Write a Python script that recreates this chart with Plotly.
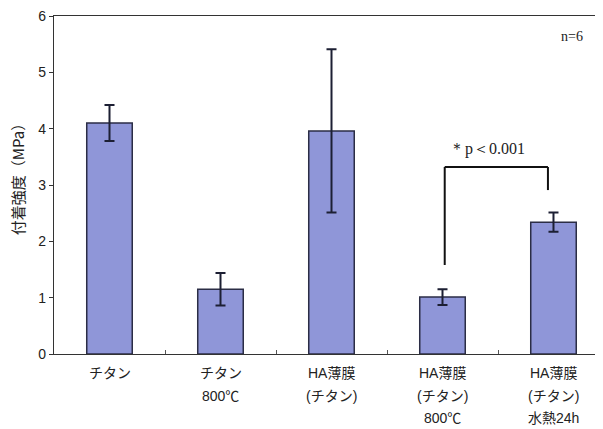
import plotly.graph_objects as go

categories = [["チタン"], ["チタン", "800℃"], ["HA薄膜", "(チタン)"],
              ["HA薄膜", "(チタン)", "800℃"], ["HA薄膜", "(チタン)", "水熱24h"]]
means = [4.10, 1.15, 3.96, 1.01, 2.34]
errors = [0.32, 0.29, 1.45, 0.14, 0.17]
y_ticks = [0, 1, 2, 3, 4, 5, 6]

xpos = list(range(len(categories)))

fig = go.Figure()
fig.add_trace(go.Bar(
    x=xpos, y=means,
    marker=dict(color="#8F96D8", line=dict(color="#2b2d45", width=1.5)),
    error_y=dict(type="data", array=errors, visible=True, color="#1c1f33", thickness=2, width=5),
    width=0.41,
))

# category labels, one line per annotation for wider line spacing
for i, lines in enumerate(categories):
    for j, line in enumerate(lines):
        fig.add_annotation(x=i, xref="x", y=0, yref="paper", yanchor="middle",
                           yshift=-(19 + j * 22.5), text=line, showarrow=False,
                           font=dict(family="Liberation Sans, Noto Sans CJK JP, sans-serif",
                                     size=14, color="#222"))

line_style = dict(color="#111111", width=2)
fig.add_shape(type="line", x0=3.02, x1=3.02, y0=1.58, y1=3.32, line=line_style)
fig.add_shape(type="line", x0=3.02, x1=3.95, y0=3.32, y1=3.32, line=line_style)
fig.add_shape(type="line", x0=3.95, x1=3.95, y0=3.32, y1=2.91, line=line_style)

fig.add_annotation(x=3.40, y=3.64, text="＊p＜0.001", showarrow=False,
                   font=dict(family="Liberation Serif, serif", size=16, color="#222"))
fig.add_annotation(x=4.17, y=5.63, text="n=6", showarrow=False,
                   font=dict(family="Liberation Serif, serif", size=14, color="#222"))
fig.add_annotation(xref="paper", yref="paper", x=-0.065, y=0.527, text="付着強度（MPa）",
                   textangle=-90, showarrow=False, xanchor="center", yanchor="middle",
                   font=dict(family="Noto Sans CJK JP, sans-serif", size=15, color="#222"))

fig.update_layout(
    width=595, height=421,
    margin=dict(l=46, r=0, t=8, b=75),
    plot_bgcolor="white", paper_bgcolor="white",
    showlegend=False,
    font=dict(family="Liberation Sans, Noto Sans CJK JP, sans-serif", size=13, color="#222"),
    xaxis=dict(
        tickmode="array", tickvals=[0.5, 1.5, 2.5, 3.5], ticktext=["", "", "", ""],
        range=[-0.5, 4.446], showline=True, linecolor="#333", linewidth=1.2,
        mirror=True, ticks="inside", ticklen=4, tickcolor="#555",
        showgrid=False, zeroline=False,
    ),
    yaxis=dict(
        range=[0, 6], tickvals=y_ticks, showline=True, linecolor="#333", linewidth=1.2,
        ticks="outside", ticklen=4, tickcolor="#333", showgrid=False, zeroline=False,
        tickfont=dict(size=14), ticklabeloverflow="allow",
    ),
)

fig.write_html("out.html")
